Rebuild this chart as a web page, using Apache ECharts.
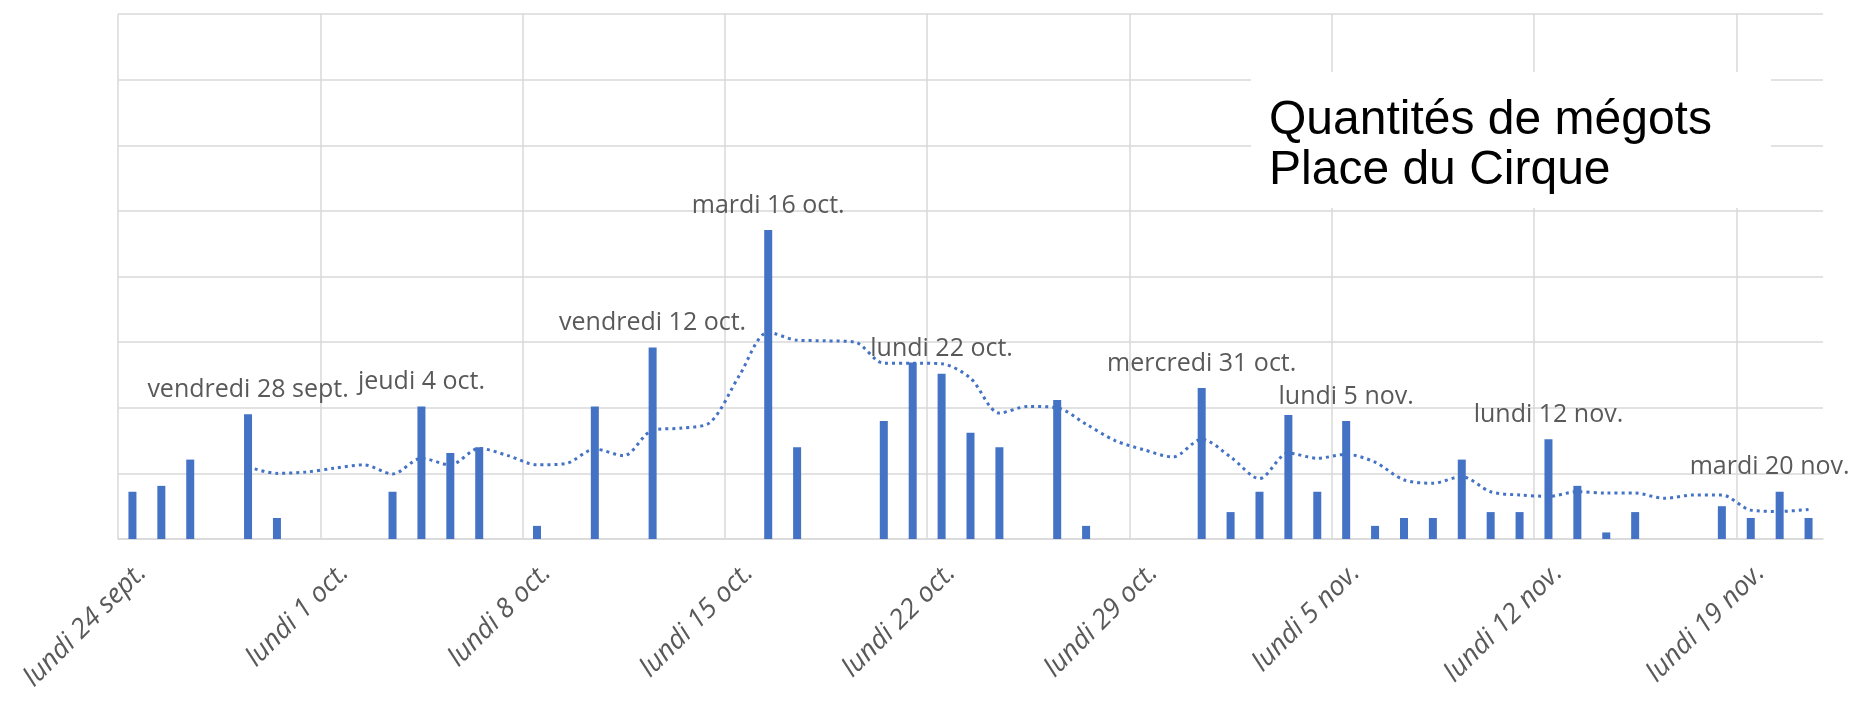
<!DOCTYPE html>
<html>
<head>
<meta charset="utf-8">
<title>Quantités de mégots Place du Cirque</title>
<script src="https://cdn.jsdelivr.net/npm/echarts@6/dist/echarts.min.js"></script>
<style>
  html, body { margin: 0; padding: 0; background: #fff; }
  #chart { width: 1851px; height: 702px; }
</style>
</head>
<body>
<div id="chart"></div>
<script>
// one category per day, 24 sept. -> 21 nov.
const days = [
  "lundi 24 sept.", "mardi 25 sept.", "mercredi 26 sept.", "jeudi 27 sept.", "vendredi 28 sept.", "samedi 29 sept.", "dimanche 30 sept.",
  "lundi 1 oct.", "mardi 2 oct.", "mercredi 3 oct.", "jeudi 4 oct.", "vendredi 5 oct.", "samedi 6 oct.", "dimanche 7 oct.",
  "lundi 8 oct.", "mardi 9 oct.", "mercredi 10 oct.", "jeudi 11 oct.", "vendredi 12 oct.", "samedi 13 oct.", "dimanche 14 oct.",
  "lundi 15 oct.", "mardi 16 oct.", "mercredi 17 oct.", "jeudi 18 oct.", "vendredi 19 oct.", "samedi 20 oct.", "dimanche 21 oct.",
  "lundi 22 oct.", "mardi 23 oct.", "mercredi 24 oct.", "jeudi 25 oct.", "vendredi 26 oct.", "samedi 27 oct.", "dimanche 28 oct.",
  "lundi 29 oct.", "mardi 30 oct.", "mercredi 31 oct.", "jeudi 1 nov.", "vendredi 2 nov.", "samedi 3 nov.", "dimanche 4 nov.",
  "lundi 5 nov.", "mardi 6 nov.", "mercredi 7 nov.", "jeudi 8 nov.", "vendredi 9 nov.", "samedi 10 nov.", "dimanche 11 nov.",
  "lundi 12 nov.", "mardi 13 nov.", "mercredi 14 nov.", "jeudi 15 nov.", "vendredi 16 nov.", "samedi 17 nov.", "dimanche 18 nov.",
  "lundi 19 nov.", "mardi 20 nov.", "mercredi 21 nov."
];

// quantities per day (null = no count that day)
const quantites = [
  72, 81, 121, null, 190, 32, null,
  null, null, 72, 202, 131, 140, null,
  20, null, 202, null, 292, null, null,
  null, 471, 140, null, null, 180, 269,
  252, 162, 140, null, 212, 20, null,
  null, null, 230, 41, 72, 189, 72,
  180, 20, 32, 32, 121, 41, 41,
  152, 81, 10, 41, null, null, 50,
  32, 72, 32
];

// dotted trend line at each day
const tendance = [
  null, null, null, null, 110, 100, 102,
  108, 113, 99, 123, 113, 138, 127,
  113, 115, 137, 127, 166, 169, 178,
  249, 315, 303, 302, 300, 268, 268,
  267, 245, 192, 202, 200, 175, 150,
  136, 125, 152, 125, 92, 131, 123,
  129, 117, 90, 85, 95, 72, 67,
  65, 72, 70, 70, 62, 67, 67,
  44, 42, 45
];

// days that carry a text label above their bar
const joursNotes = [
  "vendredi 28 sept.", "jeudi 4 oct.", "vendredi 12 oct.", "mardi 16 oct.",
  "lundi 22 oct.", "mercredi 31 oct.", "lundi 5 nov.", "lundi 12 nov.", "mardi 20 nov."
];

const blue = '#4472C4';
const gridGray = '#d9d9d9';
const textGray = '#595959';

const chart = echarts.init(document.getElementById('chart'));

const barData = quantites.map((v, i) => {
  if (joursNotes.includes(days[i])) {
    const item = { value: v, label: { show: true, formatter: days[i] } };
    // last note is pushed left so it stays inside the picture
    if (i === days.length - 2) item.label.offset = [-10, 0];
    return item;
  }
  return v;
});

const option = {
  animation: false,
  title: {
    text: 'Quantités de mégots\nPlace du Cirque',
    left: 1251,
    top: 72,
    padding: [24, 59, 12, 18],
    backgroundColor: '#fff',
    textStyle: {
      fontFamily: 'Liberation Sans',
      fontSize: 48,
      fontWeight: 'normal',
      lineHeight: 50,
      color: '#000'
    }
  },
  grid: { left: 118, right: 28, top: 14, bottom: 163 },
  xAxis: {
    type: 'category',
    data: days,
    boundaryGap: true,
    axisLine: { lineStyle: { color: gridGray, width: 1.5 } },
    axisTick: { show: false },
    axisLabel: {
      interval: (i) => i % 7 === 0,
      rotate: 45,
      margin: 20,
      verticalAlign: 'top',
      color: textGray,
      fontFamily: 'Open Sans',
      fontStyle: 'italic',
      fontSize: 27
    },
    splitLine: {
      show: true,
      showMaxLine: false,
      interval: (i) => i % 7 === 0,
      lineStyle: { color: gridGray, width: 1.5 }
    }
  },
  yAxis: {
    type: 'value',
    min: 0,
    max: 800,
    interval: 100,
    axisLabel: { show: false },
    axisLine: { show: false },
    axisTick: { show: false },
    splitLine: { lineStyle: { color: gridGray, width: 1.5 } }
  },
  series: [
    {
      type: 'bar',
      data: barData,
      barWidth: 8,
      itemStyle: { color: blue },
      label: {
        position: 'top',
        distance: 12,
        color: textGray,
        fontFamily: 'Open Sans',
        fontSize: 25
      }
    },
    {
      type: 'line',
      data: tendance,
      smooth: 0.3,
      symbol: 'none',
      connectNulls: false,
      lineStyle: { color: blue, width: 3, type: [3, 4] }
    }
  ]
};

chart.setOption(option);
</script>
</body>
</html>
